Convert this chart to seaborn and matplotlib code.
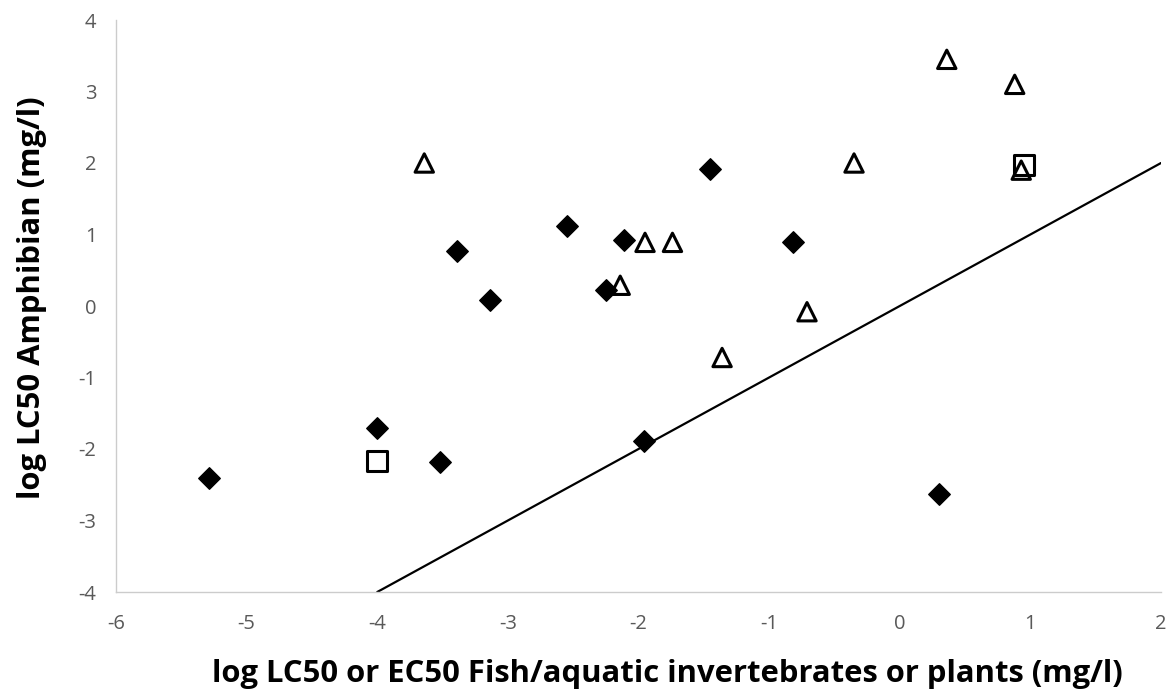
import matplotlib
matplotlib.use("Agg")
import matplotlib.pyplot as plt
import seaborn as sns

# ---- data ----
diamond_x = [-5.29, -4.00, -3.52, -3.39, -3.14, -2.55, -2.25, -2.11, -1.45, -0.82, -1.96, 0.30]
diamond_y = [-2.41, -1.71, -2.18, 0.77, 0.08, 1.12, 0.22, 0.92, 1.91, 0.89, -1.89, -2.63]

triangle_x = [-3.64, -2.14, -1.95, -1.74, -1.36, -0.71, -0.35, 0.36, 0.88, 0.93]
triangle_y = [2.00, 0.29, 0.89, 0.89, -0.72, -0.08, 2.00, 3.45, 3.10, 1.90]

square_x = [-4.00, 0.95]
square_y = [-2.17, 1.97]

line_x = [-4, 2]
line_y = [-4, 2]

x_ticks = [-6, -5, -4, -3, -2, -1, 0, 1, 2]
y_ticks = [-4, -3, -2, -1, 0, 1, 2, 3, 4]

x_title = "log LC50 or EC50 Fish/aquatic invertebrates or plants (mg/l)"
y_title = "log LC50 Amphibian (mg/l)"

# ---- style ----
sns.set_theme(style="white")
plt.rcParams["font.family"] = ["Open Sans", "DejaVu Sans"]
plt.rcParams["axes.unicode_minus"] = False

W, H = 1169, 694
fig = plt.figure(figsize=(W / 100, H / 100), dpi=100)
ax = fig.add_axes([116 / W, (H - 592) / H, (1161 - 116) / W, (592 - 20) / H])

# 1:1 line
sns.lineplot(x=line_x, y=line_y, color="black", linewidth=1.6, ax=ax, zorder=1)

# filled diamonds
sns.scatterplot(x=diamond_x, y=diamond_y, marker="D", s=120, color="black",
                edgecolor="black", linewidth=1, ax=ax, zorder=3)

# hollow triangles
sns.scatterplot(x=triangle_x, y=triangle_y, marker="^", s=175, color="black",
                edgecolor="black", linewidth=2.2, ax=ax, zorder=3)
ax.collections[-1].set_facecolor("none")

# hollow squares
sns.scatterplot(x=square_x, y=square_y, marker="s", s=200, color="black",
                edgecolor="black", linewidth=2.2, ax=ax, zorder=3)
ax.collections[-1].set_facecolor("none")

ax.set_xlim(x_ticks[0], x_ticks[-1])
ax.set_ylim(y_ticks[0], y_ticks[-1])
ax.set_xticks(x_ticks)
ax.set_xticklabels([str(t) for t in x_ticks])
ax.set_yticks(y_ticks)
ax.set_yticklabels([str(t) for t in y_ticks])
ax.tick_params(axis="both", length=0, labelsize=14.5, labelcolor="#595959")
ax.tick_params(axis="x", pad=16)
ax.tick_params(axis="y", pad=14)

for side in ["top", "right"]:
    ax.spines[side].set_visible(False)
for side in ["left", "bottom"]:
    ax.spines[side].set_color("#cccccc")
    ax.spines[side].set_linewidth(1)

ax.set_xlabel(x_title, fontsize=22.3, fontweight="bold", color="black")
ax.xaxis.set_label_coords(0.528, -0.117)
ax.set_ylabel(y_title, fontsize=22.3, fontweight="bold", color="black")
ax.yaxis.set_label_coords(-0.066, 0.514)

fig.savefig("out.png", dpi=100)
